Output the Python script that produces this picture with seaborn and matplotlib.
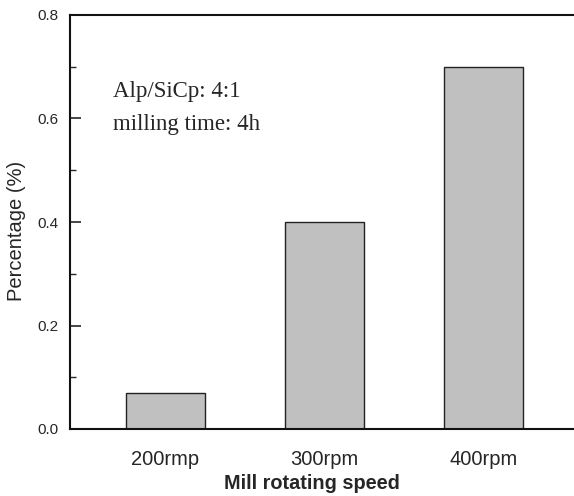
import numpy as np
import pandas as pd
import matplotlib
matplotlib.use("Agg")
import matplotlib.pyplot as plt
from matplotlib.ticker import MultipleLocator
import seaborn as sns

# dados
speeds = ["200rmp", "300rpm", "400rpm"]
percentages = [0.07, 0.40, 0.70]

sns.set_style("ticks")
plt.rcParams["font.family"] = ["Liberation Sans", "DejaVu Sans"]

df = pd.DataFrame({"speed": speeds, "pct": percentages})

fig = plt.figure(figsize=(5.74, 4.96), dpi=100)
ax = fig.add_axes([70 / 574, 67 / 496, 504 / 574, 414 / 496])

sns.barplot(data=df, x="speed", y="pct", color="#c0c0c0", saturation=1,
            width=0.5, edgecolor="#222222", linewidth=1.0, ax=ax)

ax.set_xlim(-0.6, 2.57)
ax.set_ylim(0, 0.8)
ax.yaxis.set_major_locator(MultipleLocator(0.2))
ax.yaxis.set_minor_locator(MultipleLocator(0.1))
ax.set_yticklabels([f"{v:.1f}" for v in ax.get_yticks()])
ax.tick_params(axis="y", which="major", direction="in", length=8, width=1.2,
               labelsize=11, pad=8)
ax.tick_params(axis="y", which="minor", direction="in", length=4, width=1.0)
ax.tick_params(axis="x", length=0, labelsize=14.5, pad=15)

for lado in ["left", "top", "bottom"]:
    ax.spines[lado].set_linewidth(1.5)
    ax.spines[lado].set_color("#111111")
ax.spines["right"].set_visible(False)

ax.set_xlabel("Mill rotating speed", fontsize=14.3, weight="bold")
ax.xaxis.set_label_coords(0.48, -0.108)
ax.set_ylabel("Percentage (%)", fontsize=14.5)
ax.yaxis.set_label_coords(-0.087, 0.478)

ax.text(0.085, 0.815, "Alp/SiCp: 4:1", transform=ax.transAxes,
        family="Liberation Serif", fontsize=16.5, va="center")
ax.text(0.085, 0.735, "milling time: 4h", transform=ax.transAxes,
        family="Liberation Serif", fontsize=16.5, va="center")

fig.savefig("out.png", dpi=100)
